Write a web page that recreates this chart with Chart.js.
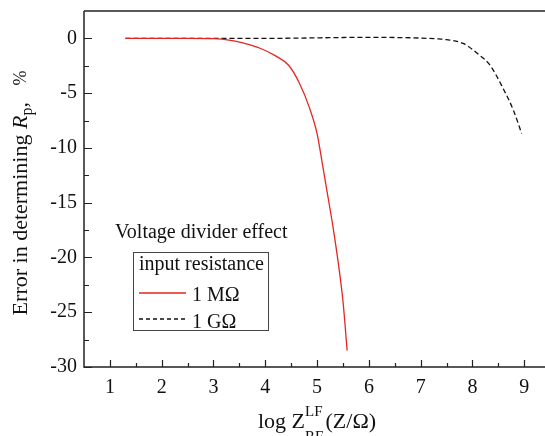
<!DOCTYPE html>
<html>
<head>
<meta charset="utf-8">
<script src="https://cdn.jsdelivr.net/npm/chart.js@4"></script>
<style>
    html, body { margin: 0; padding: 0; background: #fff; overflow: hidden; }
    canvas { display: block; }
</style>
</head>
<body>
<canvas id="error-chart" width="545" height="436"></canvas>
<script>
// log Z values and error (%) for the 1 MOhm input resistance
const megaOhmLogZ = [1.3, 2.0, 2.5, 3.0, 3.3, 3.6, 3.9, 4.2, 4.45, 4.65, 4.85, 5.0, 5.1, 5.2, 5.3, 5.4, 5.5, 5.58];
const megaOhmError = [0, 0, 0, -0.03, -0.15, -0.45, -0.9, -1.6, -2.45, -4.0, -6.3, -8.7, -11.4, -14.2, -17.0, -20.2, -24.0, -28.5];

// log Z values and error (%) for the 1 GOhm input resistance
const gigaOhmLogZ = [1.3, 3.0, 4.0, 5.0, 5.5, 6.0, 6.5, 7.0, 7.3, 7.5, 7.82, 8.14, 8.34, 8.59, 8.79, 8.95];
const gigaOhmError = [0, 0, 0, 0.05, 0.08, 0.1, 0.08, 0.03, -0.04, -0.12, -0.46, -1.55, -2.46, -4.56, -6.56, -8.69];

const seriesNames = ["1 MΩ", "1 GΩ"];
const xTicks = [1, 2, 3, 4, 5, 6, 7, 8, 9];
const yTicks = [0, -5, -10, -15, -20, -25, -30];

const serif = "'Liberation Serif', 'DejaVu Serif', serif";
const red = "rgb(228, 38, 34)";

function toPoints(xs, ys) {
    return xs.map((x, i) => ({ x: x, y: ys[i] }));
}

// draw a list of text pieces one after another, centred on x
function drawParts(ctx, parts, x, y) {
    let width = 0;
    parts.forEach(p => {
        ctx.font = p.font;
        p.w = p.width !== undefined ? p.width : ctx.measureText(p.text).width;
        if (!p.overlay) width += p.w;
    });
    let cx = x - width / 2;
    parts.forEach(p => {
        ctx.font = p.font;
        ctx.fillText(p.text, p.overlay ? cx - p.back : cx, y + (p.dy || 0));
        if (!p.overlay) cx += p.w;
    });
}

// axes, inward ticks, labels and the legend box
const framePlugin = {
    id: "frame",
    afterDraw(chart) {
        const ctx = chart.ctx;
        const area = chart.chartArea;
        const xs = chart.scales.x;
        const ys = chart.scales.y;
        ctx.save();

        // top border
        ctx.strokeStyle = "#5a5a5a";
        ctx.lineWidth = 2;
        ctx.beginPath();
        ctx.moveTo(area.left, area.top);
        ctx.lineTo(area.right, area.top);
        ctx.stroke();

        // left and bottom axes
        ctx.strokeStyle = "#222";
        ctx.lineWidth = 1.5;
        ctx.beginPath();
        ctx.moveTo(area.left, area.top);
        ctx.lineTo(area.left, area.bottom);
        ctx.lineTo(area.right, area.bottom);
        ctx.stroke();

        // x ticks (major on integers, minor on halves)
        ctx.lineWidth = 1.2;
        ctx.beginPath();
        for (let v = 1; v <= 9.01; v += 0.5) {
            const px = Math.round(xs.getPixelForValue(v)) + 0.5;
            const len = Number.isInteger(v) ? 7 : 4;
            ctx.moveTo(px, area.bottom);
            ctx.lineTo(px, area.bottom - len);
        }
        // y ticks (major every 5, minor every 2.5)
        for (let v = -30; v <= 0.01; v += 2.5) {
            const py = Math.round(ys.getPixelForValue(v)) + 0.5;
            const len = v % 5 === 0 ? 8 : 5;
            ctx.moveTo(area.left, py);
            ctx.lineTo(area.left + len, py);
        }
        ctx.stroke();

        // tick labels
        ctx.fillStyle = "#111";
        ctx.font = "20px " + serif;
        ctx.textAlign = "center";
        ctx.textBaseline = "top";
        xTicks.forEach(v => {
            ctx.fillText(String(v), xs.getPixelForValue(v), 378);
        });
        ctx.textAlign = "right";
        ctx.textBaseline = "middle";
        yTicks.forEach(v => {
            ctx.fillText(String(v), area.left - 7, ys.getPixelForValue(v));
        });

        // y axis title
        ctx.textAlign = "left";
        ctx.textBaseline = "alphabetic";
        ctx.save();
        ctx.translate(27, 193);
        ctx.rotate(-Math.PI / 2);
        drawParts(ctx, [
            { text: "Error in determining ", font: "22px " + serif },
            { text: "R", font: "italic 22px " + serif },
            { text: "p", font: "16px " + serif, dy: 5 },
            { text: ",   ", font: "22px " + serif },
            { text: "%", font: "18px " + serif, dy: -1 }
        ], 0, 0);
        ctx.restore();

        // x axis title
        ctx.font = "15px " + serif;
        const supW = ctx.measureText("LF").width;
        drawParts(ctx, [
            { text: "log Z", font: "22px " + serif },
            { text: "LF", font: "15px " + serif, dy: -12, width: supW + 3 },
            { text: "RF", font: "15px " + serif, dy: 13, overlay: true, back: supW + 3 },
            { text: "(Z/Ω)", font: "22px " + serif }
        ], 317, 428);

        // legend
        ctx.font = "20px " + serif;
        ctx.fillText("Voltage divider effect", 115, 238);
        ctx.strokeStyle = "#444";
        ctx.lineWidth = 1;
        ctx.strokeRect(133.5, 252.5, 135, 78);
        ctx.fillText("input resistance", 139, 270);

        ctx.strokeStyle = red;
        ctx.lineWidth = 1.3;
        ctx.beginPath();
        ctx.moveTo(139, 293);
        ctx.lineTo(186, 293);
        ctx.stroke();
        ctx.fillText(seriesNames[0], 192, 301);

        ctx.strokeStyle = "#111";
        ctx.setLineDash([4, 3]);
        ctx.beginPath();
        ctx.moveTo(139, 319);
        ctx.lineTo(186, 319);
        ctx.stroke();
        ctx.setLineDash([]);
        ctx.fillText(seriesNames[1], 192, 328);

        ctx.restore();
    }
};

const ctx = document.getElementById("error-chart").getContext("2d");
new Chart(ctx, {
    type: "line",
    data: {
        datasets: [{
            label: seriesNames[0],
            data: toPoints(megaOhmLogZ, megaOhmError),
            borderColor: red,
            borderWidth: 1.3,
            pointRadius: 0,
            cubicInterpolationMode: "monotone",
        }, {
            label: seriesNames[1],
            data: toPoints(gigaOhmLogZ, gigaOhmError),
            borderColor: "#111",
            borderWidth: 1.3,
            borderDash: [5, 3],
            pointRadius: 0,
            cubicInterpolationMode: "monotone",
        }],
    },
    options: {
        responsive: false,
        animation: false,
        devicePixelRatio: 1,
        layout: { padding: { left: 84, top: 11, right: 0, bottom: 69 } },
        scales: {
            x: { type: "linear", min: 0.5, max: 9.4, display: false },
            y: { type: "linear", min: -30, max: 2.5, display: false },
        },
        plugins: {
            legend: { display: false },
            tooltip: { enabled: false },
        },
    },
    plugins: [framePlugin],
});
</script>
</body>
</html>
